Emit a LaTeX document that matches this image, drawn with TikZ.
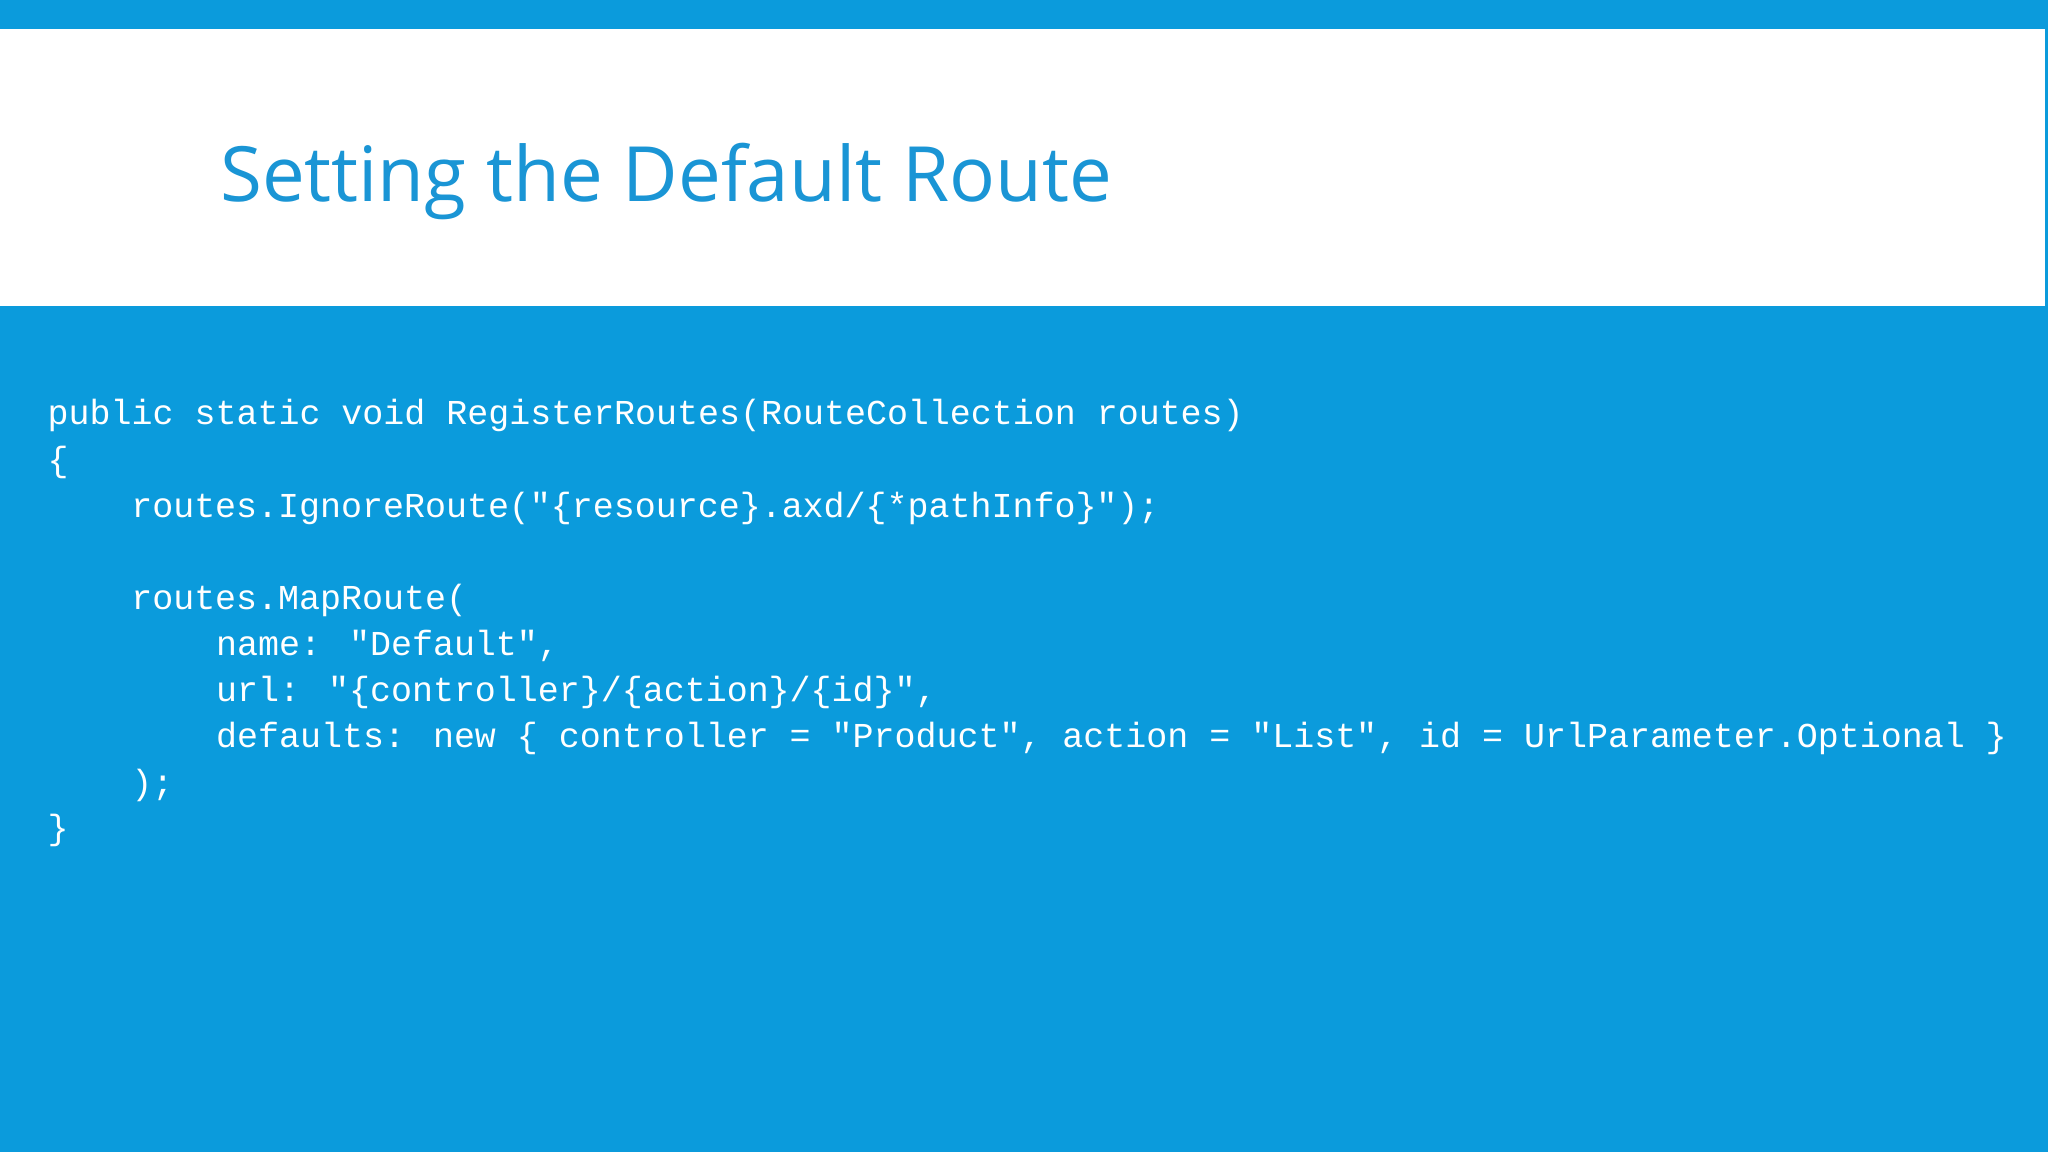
\documentclass[tikz,border=0pt]{standalone}
\usepackage{fontspec}
\newfontfamily\codefont{Liberation Mono}
\newfontfamily\titlefont{Open Sans}
\definecolor{bg}{HTML}{0B9BDC}
\definecolor{tc}{HTML}{1A95D5}
\begin{document}
\begin{tikzpicture}[x=0.013061cm,y=-0.013061cm,
  code/.style={anchor=base west,inner sep=0pt,text=white,font=\codefont\fontsize{9.95}{12}\selectfont}]
\useasboundingbox (0,0) rectangle (1568,882);
\fill[bg] (0,0) rectangle (1568,882);
\fill[white] (0,22) rectangle (1566,234);
\node[anchor=base west,inner sep=0pt,text=tc,font=\titlefont\fontsize{21.7}{26}\selectfont] (title) at (168,154) {Setting the Default Route};
\node[code] (l1) at (36,325) {public static void RegisterRoutes(RouteCollection routes)};
\node[code] (l2) at (36,361) {\{};
\node[code] (l3) at (100,396) {routes.IgnoreRoute("\{resource\}.axd/\{*pathInfo\}");};
\node[code] (l4) at (100,467) {routes.MapRoute(};
\node[code] (l5) at (165,502) {name: "Default",};
\node[code] (l6) at (165,537) {url: "\{controller\}/\{action\}/\{id\}",};
\node[code] (l7) at (165,572) {defaults: new \{ controller = "Product", action = "List", id = UrlParameter.Optional \}};
\node[code] (l8) at (100,608) {);};
\node[code] (l9) at (36,643) {\}};
\end{tikzpicture}
\end{document}
